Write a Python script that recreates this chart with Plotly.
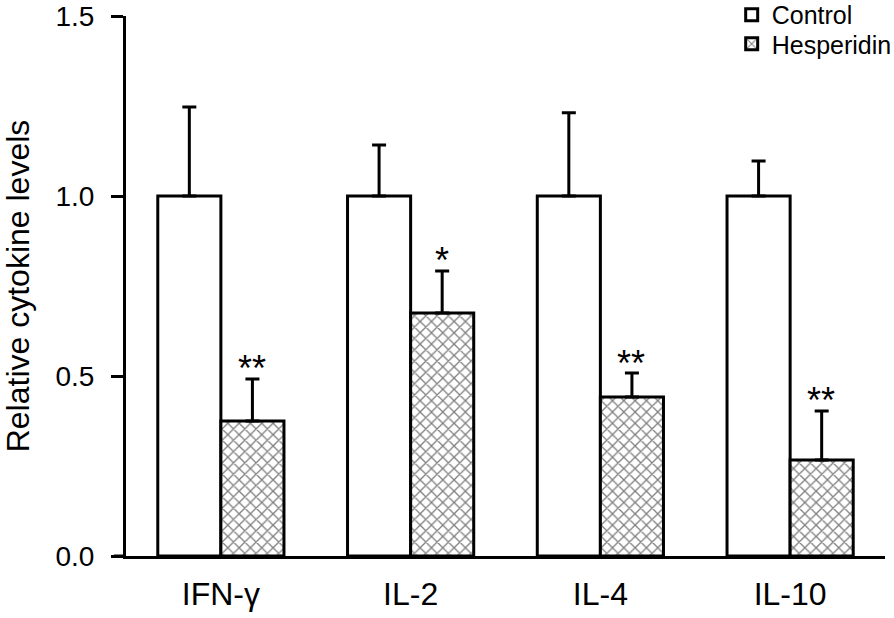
import plotly.graph_objects as go

categories = ["IFN-γ", "IL-2", "IL-4", "IL-10"]
control = [1.0, 1.0, 1.0, 1.0]
control_err = [0.247, 0.142, 0.231, 0.097]
hesperidin = [0.375, 0.675, 0.442, 0.267]
hesperidin_err = [0.117, 0.117, 0.066, 0.136]
significance = ["**", "*", "**", "**"]
y_ticks = [0.0, 0.5, 1.0, 1.5]
y_tick_labels = ["0.0", "0.5", "1.0", "1.5"]

FONT = "Liberation Sans, Arial, sans-serif"
PLOT_W = 894 - 126 - 9

fig = go.Figure()
fig.add_trace(go.Bar(
    name="Control", x=categories, y=control, legend="legend",
    marker=dict(color="white", line=dict(color="black", width=3)),
    error_y=dict(type="data", array=control_err, arrayminus=[0]*4, symmetric=False,
                 color="black", thickness=3, width=7),
))
fig.add_trace(go.Bar(
    name="Hesperidin", x=categories, y=hesperidin, legend="legend2",
    marker=dict(color="white", line=dict(color="black", width=3),
                pattern=dict(shape="x", fgcolor="black", bgcolor="white", size=8, solidity=0.3)),
    error_y=dict(type="data", array=hesperidin_err, arrayminus=[0]*4, symmetric=False,
                 color="black", thickness=3, width=7),
))

for i, (v, e, s) in enumerate(zip(hesperidin, hesperidin_err, significance)):
    fig.add_annotation(x=i, xref="x", y=v + e, yref="y", text=s, showarrow=False,
                       xshift=31, yshift=10, font=dict(size=36, color="black", family=FONT))

# x-axis baseline extends slightly left of the y axis
fig.add_shape(type="line", xref="paper", yref="y", x0=-12 / PLOT_W, x1=0, y0=0, y1=0,
              line=dict(color="black", width=3))

legend_style = dict(xanchor="left", yanchor="middle",
                    font=dict(size=25, family=FONT, color="black"),
                    bgcolor="rgba(0,0,0,0)", itemwidth=30)

fig.update_layout(
    width=894, height=618,
    margin=dict(l=126, r=9, t=16, b=62, autoexpand=False),
    paper_bgcolor="white", plot_bgcolor="white",
    barmode="group", bargap=0.335, bargroupgap=0,
    font=dict(family=FONT, color="black"),
    showlegend=True,
    legend=dict(x=0.798, y=1.002, **legend_style),
    legend2=dict(x=0.798, y=0.948, **legend_style),
    xaxis=dict(range=[-0.5, 3.5], showline=True, linecolor="black", linewidth=3,
               ticks="", ticklabelstandoff=8,
               tickfont=dict(size=32, family=FONT, color="black"),
               showgrid=False, zeroline=False),
    yaxis=dict(range=[0, 1.5], tickvals=y_ticks, ticktext=y_tick_labels,
               showline=True, linecolor="black", linewidth=3,
               ticks="outside", ticklen=12, tickwidth=3, tickcolor="black",
               ticklabelstandoff=11,
               tickfont=dict(size=28, family=FONT, color="black"),
               title=dict(text="Relative cytokine levels", font=dict(size=32, family=FONT, color="black"), standoff=26),
               showgrid=False, zeroline=False),
)

fig.write_html("out.html", config={"displayModeBar": False},
               post_script="document.body.style.margin='0';")
